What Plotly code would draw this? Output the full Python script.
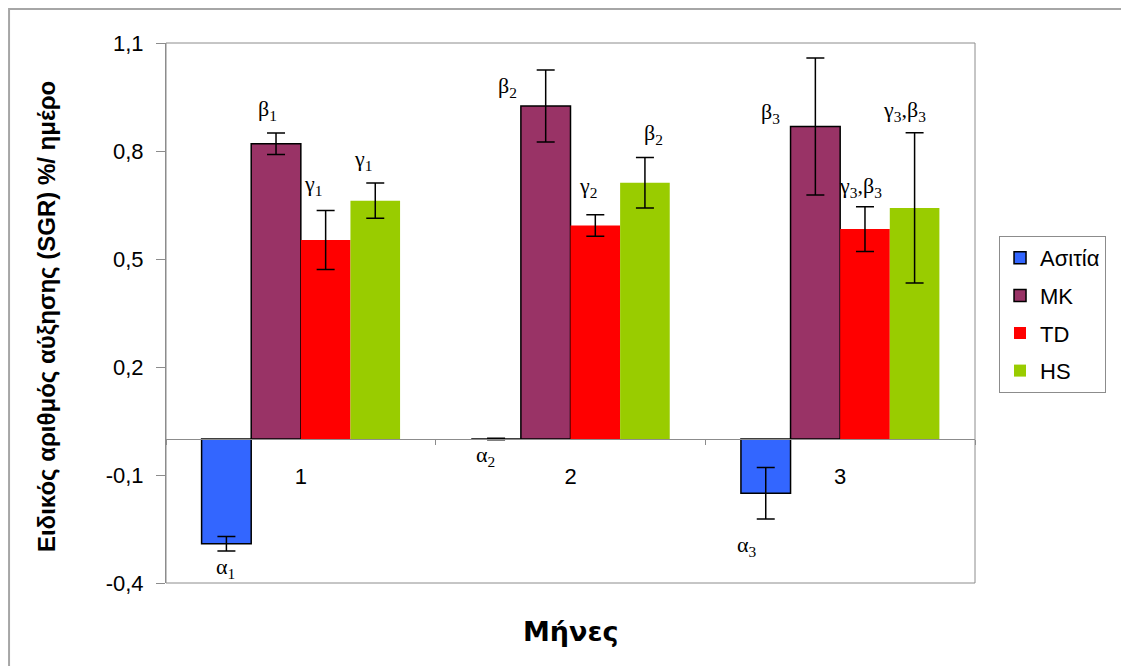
import plotly.graph_objects as go

# ---- data ----
months = ["1", "2", "3"]
series_names = ["Ασιτία", "MK", "TD", "HS"]
asitia = [-0.291, 0.0, -0.151]
asitia_err = [0.02, 0.002, 0.0715]
mk = [0.82, 0.925, 0.868]
mk_err = [0.03, 0.10, 0.19]
td = [0.553, 0.593, 0.583]
td_err = [0.082, 0.03, 0.062]
hs = [0.662, 0.712, 0.642]
hs_err = [0.049, 0.07, 0.209]

y_ticks = [-0.4, -0.1, 0.2, 0.5, 0.8, 1.1]
y_tick_text = [f"{v:.1f}".replace(".", ",") for v in y_ticks]

# significance labels: (text, x in category units, y in data units)
sig_labels = [
    ("α<sub>1</sub>", -0.278, -0.358),
    ("β<sub>1</sub>", -0.122, 0.914),
    ("γ<sub>1</sub>", 0.045, 0.706),
    ("γ<sub>1</sub>", 0.231, 0.775),
    ("α<sub>2</sub>", 0.683, -0.047),
    ("β<sub>2</sub>", 0.768, 0.978),
    ("γ<sub>2</sub>", 1.065, 0.700),
    ("β<sub>2</sub>", 1.306, 0.847),
    ("α<sub>3</sub>", 1.654, -0.297),
    ("β<sub>3</sub>", 1.740, 0.906),
    ("γ<sub>3</sub>,β<sub>3</sub>", 2.074, 0.700),
    ("γ<sub>3</sub>,β<sub>3</sub>", 2.240, 0.911),
]

colors = ["#3366FF", "#993366", "#FF0000", "#99CC00"]
outlines = [1.5, 1.5, 0, 0]
values = [asitia, mk, td, hs]
errors = [asitia_err, mk_err, td_err, hs_err]

fig = go.Figure()
for i, (name, vals, errs) in enumerate(zip(series_names, values, errors)):
    fig.add_trace(go.Bar(
        name=name,
        x=months,
        y=vals,
        legendgroup=name,
        marker=dict(color=colors[i], line=dict(color="#000000", width=outlines[i])),
        error_y=dict(type="data", array=errs, visible=True, color="#000000",
                     thickness=1.5, width=9),
    ))

annotations = []
for txt, xv, yv in sig_labels:
    annotations.append(dict(
        text=txt, x=xv, y=yv, xref="x", yref="y", showarrow=False,
        font=dict(family="Liberation Serif, Times New Roman, serif", size=22, color="#000000"),
    ))

annotations.append(dict(
    text="<b>Ειδικός αριθμός αύξησης (SGR) %/ ημέρο</b>",
    x=-0.147, y=0.4926, xref="paper", yref="paper", showarrow=False,
    textangle=-90, xanchor="center", yanchor="middle",
    font=dict(family="Liberation Sans, Arial, sans-serif", size=24, color="#000000"),
))
annotations.append(dict(
    text="<b>Μήνες</b>",
    x=0.5, y=-0.0907, xref="paper", yref="paper", showarrow=False,
    xanchor="center", yanchor="middle",
    font=dict(family="DejaVu Sans, Verdana, sans-serif", size=27, color="#000000"),
))

shapes = [
    # plot area border
    dict(type="rect", xref="paper", yref="paper", x0=0, x1=1, y0=0, y1=1,
         line=dict(color="#8c8c8c", width=1), fillcolor="rgba(0,0,0,0)", layer="below"),
    # outer chart border (left and top visible)
    dict(type="rect", xref="paper", yref="paper", x0=-0.1940, x1=1.5, y0=-0.5, y1=1.0630,
         line=dict(color="#a6a6a6", width=2), fillcolor="rgba(0,0,0,0)", layer="below"),
]

fig.update_layout(
    width=1129, height=666,
    margin=dict(l=158, r=162, t=35, b=91),
    paper_bgcolor="#ffffff", plot_bgcolor="#ffffff",
    barmode="group", bargap=0.264, bargroupgap=0,
    showlegend=True,
    legend=dict(
        x=1.0297, y=0.6426, xanchor="left", yanchor="top", xref="paper", yref="paper",
        bordercolor="#8c8c8c", borderwidth=1, bgcolor="#ffffff",
        font=dict(family="Liberation Sans, Arial, sans-serif", size=22, color="#000000"),
        tracegroupgap=6, traceorder="grouped", itemwidth=30,
    ),
    annotations=annotations,
    shapes=shapes,
    xaxis=dict(
        type="category", anchor="free", position=0.4 / 1.5,
        showline=True, linecolor="#8c8c8c", linewidth=1,
        ticks="outside", tickson="boundaries", ticklen=5, tickcolor="#8c8c8c",
        showgrid=False, zeroline=False, ticklabelstandoff=18,
        tickfont=dict(family="Liberation Sans, Arial, sans-serif", size=22, color="#000000"),
        range=[-0.5, 2.5],
    ),
    yaxis=dict(
        range=[-0.4, 1.1], tickvals=y_ticks, ticktext=y_tick_text,
        showline=True, linecolor="#8c8c8c", linewidth=1,
        ticks="outside", ticklen=9, tickcolor="#8c8c8c",
        showgrid=False, zeroline=False, ticklabelstandoff=8,
        tickfont=dict(family="Liberation Sans, Arial, sans-serif", size=22, color="#000000"),
    ),
)

fig.write_html("out.html")
